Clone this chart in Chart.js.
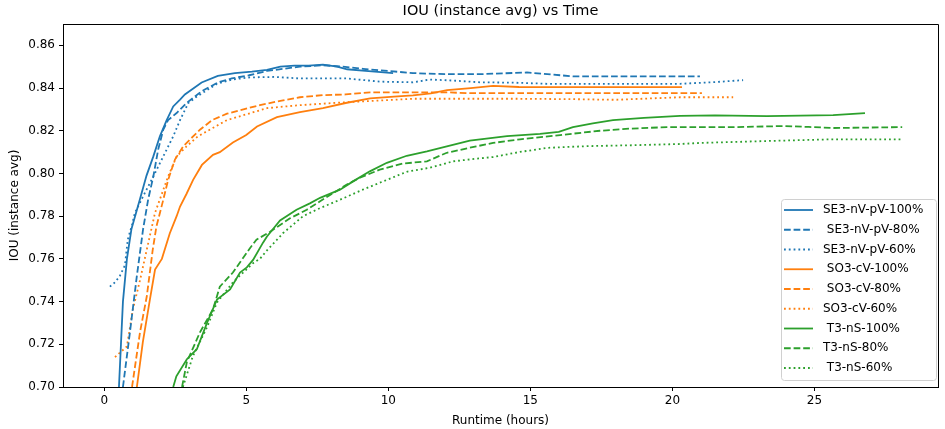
<!DOCTYPE html>
<html>
<head>
<meta charset="utf-8">
<script src="https://cdn.jsdelivr.net/npm/chart.js@4"></script>
<style>
  body { margin: 0; background: #fff; }
  canvas { display: block; }
</style>
</head>
<body>
<canvas id="chart1" width="945" height="429"></canvas>
<script>
const xTicks = [0, 5, 10, 15, 20, 25];
const yTicks = [0.70, 0.72, 0.74, 0.76, 0.78, 0.80, 0.82, 0.84, 0.86];

// SE3-nV-pV
const se3x100 = [0.52, 0.59, 0.66, 0.80, 0.96, 1.26, 1.49, 1.73, 1.96, 2.2, 2.43, 2.67, 2.84, 3.43, 4.0, 4.6, 5.2, 5.73, 6.2, 6.7, 7.2, 7.7, 8.2, 8.55, 9.2, 10.17];
const se3y100 = [0.70, 0.72, 0.74, 0.76, 0.774, 0.788, 0.799, 0.808, 0.8174, 0.825, 0.8314, 0.8346, 0.837, 0.8426, 0.8457, 0.847, 0.8477, 0.8485, 0.850, 0.8505, 0.8505, 0.851, 0.850, 0.8488, 0.848, 0.847];
const se3x80 = [0.66, 0.9, 1.15, 1.37, 1.55, 1.73, 1.9, 2.08, 2.25, 2.55, 2.9, 3.43, 4.0, 4.49, 5.1, 5.73, 6.3, 6.89, 7.7, 8.4, 9.11, 10.0, 10.87, 12.0, 13.23, 14.88, 16.5, 18.0, 19.5, 20.97];
const se3y80 = [0.70, 0.725, 0.752, 0.774, 0.788, 0.7986, 0.8112, 0.8206, 0.825, 0.8283, 0.833, 0.8385, 0.8426, 0.8445, 0.846, 0.848, 0.849, 0.850, 0.8507, 0.850, 0.849, 0.848, 0.847, 0.8465, 0.8465, 0.8473, 0.8455, 0.8455, 0.8455, 0.8455];
const se3x60 = [0.20, 0.38, 0.55, 0.73, 0.83, 0.98, 1.08, 1.37, 1.73, 2.08, 2.43, 2.67, 2.96, 3.26, 3.97, 4.5, 5.13, 6.0, 6.89, 7.7, 8.55, 9.7, 10.87, 11.47, 12.3, 13.23, 14.5, 15.59, 17.0, 18.5, 20.27, 21.5, 22.49];
const se3y60 = [0.747, 0.749, 0.752, 0.757, 0.769, 0.776, 0.7815, 0.7893, 0.7986, 0.808, 0.8174, 0.825, 0.833, 0.836, 0.842, 0.844, 0.845, 0.8452, 0.8445, 0.8445, 0.8445, 0.843, 0.8427, 0.844, 0.8435, 0.8427, 0.8425, 0.842, 0.842, 0.842, 0.842, 0.8428, 0.8437];

// SO3-cV
const so3x100 = [1.15, 1.36, 1.61, 1.79, 2.03, 2.31, 2.55, 2.67, 2.9, 3.13, 3.44, 3.83, 4.07, 4.53, 5.0, 5.38, 6.08, 6.89, 7.7, 8.5, 9.36, 10.2, 10.87, 11.5, 12.07, 12.9, 13.69, 14.6, 15.59, 17.0, 18.5, 20.34];
const so3y100 = [0.70, 0.721, 0.741, 0.755, 0.760, 0.772, 0.780, 0.7845, 0.7905, 0.797, 0.804, 0.8087, 0.810, 0.8145, 0.818, 0.822, 0.8264, 0.8287, 0.8306, 0.833, 0.8352, 0.836, 0.8366, 0.8375, 0.839, 0.840, 0.841, 0.8405, 0.8404, 0.8404, 0.8404, 0.8404];
const so3x80 = [0.98, 1.26, 1.5, 1.71, 1.84, 2.08, 2.25, 2.49, 2.78, 3.13, 3.37, 3.8, 4.32, 4.9, 5.48, 6.2, 6.89, 7.7, 8.5, 9.36, 10.4, 11.47, 12.1, 12.77, 14.39, 16.0, 18.0, 20.27, 21.04];
const so3y80 = [0.70, 0.7256, 0.7425, 0.7644, 0.7753, 0.7877, 0.797, 0.8065, 0.8127, 0.8174, 0.8205, 0.825, 0.828, 0.830, 0.832, 0.834, 0.8357, 0.8367, 0.837, 0.838, 0.838, 0.838, 0.838, 0.8376, 0.8376, 0.8376, 0.8376, 0.8376, 0.8376];
const so3x60 = [0.38, 0.80, 1.01, 1.26, 1.50, 1.79, 2.25, 2.55, 2.9, 3.3, 4.32, 5.73, 6.89, 8.55, 10.87, 14.39, 16.5, 18.0, 20.27, 22.14];
const so3y60 = [0.714, 0.719, 0.7364, 0.750, 0.7644, 0.7816, 0.7986, 0.808, 0.8127, 0.8174, 0.825, 0.8306, 0.832, 0.8334, 0.835, 0.835, 0.8348, 0.8345, 0.8357, 0.8357];

// T3-nS
const t3x100 = [2.43, 2.54, 2.91, 3.26, 3.62, 3.97, 4.43, 4.78, 5.02, 5.24, 5.59, 5.73, 6.19, 6.77, 7.24, 7.6, 8.3, 8.76, 9.35, 9.95, 10.65, 11.36, 12.06, 12.87, 14.18, 15.34, 16.0, 16.5, 17.2, 17.91, 19.0, 20.27, 21.5, 23.33, 25.66, 26.78];
const t3y100 = [0.70, 0.705, 0.713, 0.7177, 0.730, 0.741, 0.7457, 0.7536, 0.756, 0.7595, 0.7676, 0.7705, 0.778, 0.783, 0.786, 0.7886, 0.7924, 0.7963, 0.801, 0.805, 0.8083, 0.8104, 0.8127, 0.8154, 0.8175, 0.8185, 0.8195, 0.8217, 0.8235, 0.825, 0.826, 0.827, 0.8272, 0.8269, 0.8273, 0.8283];
const t3x80 = [2.74, 2.91, 3.37, 3.83, 4.07, 4.53, 5.13, 5.36, 5.84, 6.54, 7.13, 7.6, 8.54, 9.0, 9.7, 10.5, 11.36, 12.06, 13.1, 13.69, 14.64, 16.05, 17.45, 18.5, 19.81, 22.14, 23.9, 24.8, 25.66, 28.09];
const t3y80 = [0.70, 0.7117, 0.7256, 0.7364, 0.747, 0.7536, 0.765, 0.769, 0.7727, 0.779, 0.783, 0.787, 0.7948, 0.798, 0.8018, 0.8046, 0.8057, 0.8097, 0.8127, 0.8143, 0.816, 0.818, 0.820, 0.821, 0.8217, 0.8217, 0.8222, 0.8218, 0.8213, 0.8217];
const t3x60 = [2.77, 3.12, 3.62, 3.97, 4.53, 5.24, 5.48, 5.73, 6.19, 6.29, 7.0, 7.6, 8.3, 9.1, 9.95, 10.65, 11.47, 12.28, 13.1, 13.69, 14.6, 15.59, 17.0, 18.5, 20.27, 20.97, 23.33, 25.66, 28.09];
const t3y60 = [0.70, 0.7144, 0.728, 0.7396, 0.749, 0.758, 0.760, 0.764, 0.7705, 0.772, 0.780, 0.7838, 0.7877, 0.7924, 0.797, 0.8008, 0.8027, 0.8057, 0.8069, 0.8077, 0.810, 0.812, 0.8128, 0.8132, 0.8138, 0.8143, 0.8152, 0.816, 0.816];

const labels = ["SE3-nV-pV-100%", " SE3-nV-pV-80%", "SE3-nV-pV-60%",
  " SO3-cV-100%", " SO3-cV-80%", "SO3-cV-60%",
  " T3-nS-100%", "T3-nS-80%", " T3-nS-60%"];

const blue = "#1f77b4", orange = "#ff7f0e", green = "#2ca02c";
const solid = [], dashed = [6.7, 2.9], dotted = [1.8, 3.0];

function pts(xs, ys) {
  return xs.map((x, i) => ({ x: x, y: ys[i] }));
}
function series(label, xs, ys, color, dash) {
  return {
    label: label,
    data: pts(xs, ys),
    borderColor: color,
    backgroundColor: color,
    borderWidth: 1.8,
    borderDash: dash,
    pointRadius: 0,
    showLine: true,
    tension: 0
  };
}

const datasets = [
  series(labels[0], se3x100, se3y100, blue, solid),
  series(labels[1], se3x80, se3y80, blue, dashed),
  series(labels[2], se3x60, se3y60, blue, dotted),
  series(labels[3], so3x100, so3y100, orange, solid),
  series(labels[4], so3x80, so3y80, orange, dashed),
  series(labels[5], so3x60, so3y60, orange, dotted),
  series(labels[6], t3x100, t3y100, green, solid),
  series(labels[7], t3x80, t3y80, green, dashed),
  series(labels[8], t3x60, t3y60, green, dotted)
];

const font = "DejaVu Sans";

// title, axis labels, top/right spines and the legend box
const extras = {
  id: "extras",
  afterDraw(chart) {
    const ctx = chart.ctx;
    const a = chart.chartArea;
    ctx.save();
    ctx.strokeStyle = "#000";
    ctx.lineWidth = 1;
    ctx.beginPath();
    ctx.moveTo(a.left, a.top + 0.5);
    ctx.lineTo(a.right + 0.5, a.top + 0.5);
    ctx.lineTo(a.right + 0.5, a.bottom);
    ctx.stroke();

    ctx.fillStyle = "#000";
    ctx.textAlign = "center";
    ctx.textBaseline = "middle";
    ctx.font = "14.5px '" + font + "'";
    ctx.fillText("IOU (instance avg) vs Time", (a.left + a.right) / 2, 11);
    ctx.font = "12px '" + font + "'";
    ctx.fillText("Runtime (hours)", (a.left + a.right) / 2, 421);
    ctx.save();
    ctx.translate(15, (a.top + a.bottom) / 2);
    ctx.rotate(-Math.PI / 2);
    ctx.fillText("IOU (instance avg)", 0, 0);
    ctx.restore();

    // legend
    const bx = 781, by = 199, bw = 155, bh = 181;
    ctx.globalAlpha = 0.8;
    ctx.fillStyle = "#fff";
    ctx.beginPath();
    ctx.roundRect(bx + 0.5, by + 0.5, bw, bh, 3);
    ctx.fill();
    ctx.globalAlpha = 1;
    ctx.strokeStyle = "#d0d0d0";
    ctx.stroke();
    ctx.textAlign = "left";
    chart.data.datasets.forEach((ds, i) => {
      const yy = 210 + i * 19.75;
      ctx.strokeStyle = ds.borderColor;
      ctx.lineWidth = 1.8;
      ctx.setLineDash(ds.borderDash);
      ctx.beginPath();
      ctx.moveTo(784, yy);
      ctx.lineTo(813, yy);
      ctx.stroke();
      ctx.setLineDash([]);
      ctx.fillStyle = "#000";
      ctx.fillText(ds.label, 823, yy);
    });
    ctx.restore();
  }
};

new Chart(document.getElementById("chart1"), {
  type: "scatter",
  data: { datasets: datasets },
  options: {
    responsive: false,
    animation: false,
    devicePixelRatio: 1,
    layout: { padding: { top: 24, right: 7, left: 0, bottom: 0 } },
    plugins: { legend: { display: false }, tooltip: { enabled: false } },
    scales: {
      x: {
        type: "linear",
        min: -1.45,
        max: 29.35,
        afterBuildTicks: (s) => { s.ticks = xTicks.map(v => ({ value: v })); },
        afterFit: (s) => { s.height = 42; },
        grid: { drawOnChartArea: false, drawTicks: true, tickLength: 4, color: "#000" },
        border: { display: true, color: "#000", width: 1 },
        ticks: { color: "#000", padding: 3, font: { family: font, size: 12 }, callback: (v) => v }
      },
      y: {
        type: "linear",
        min: 0.70,
        max: 0.870,
        afterBuildTicks: (s) => { s.ticks = yTicks.map(v => ({ value: v })); },
        afterFit: (s) => { s.width = 63; },
        grid: { drawOnChartArea: false, drawTicks: true, tickLength: 4, color: "#000" },
        border: { display: true, color: "#000", width: 1 },
        ticks: { color: "#000", padding: 4, font: { family: font, size: 12 }, callback: (v) => v.toFixed(2) }
      }
    }
  },
  plugins: [extras]
});
</script>
</body>
</html>
